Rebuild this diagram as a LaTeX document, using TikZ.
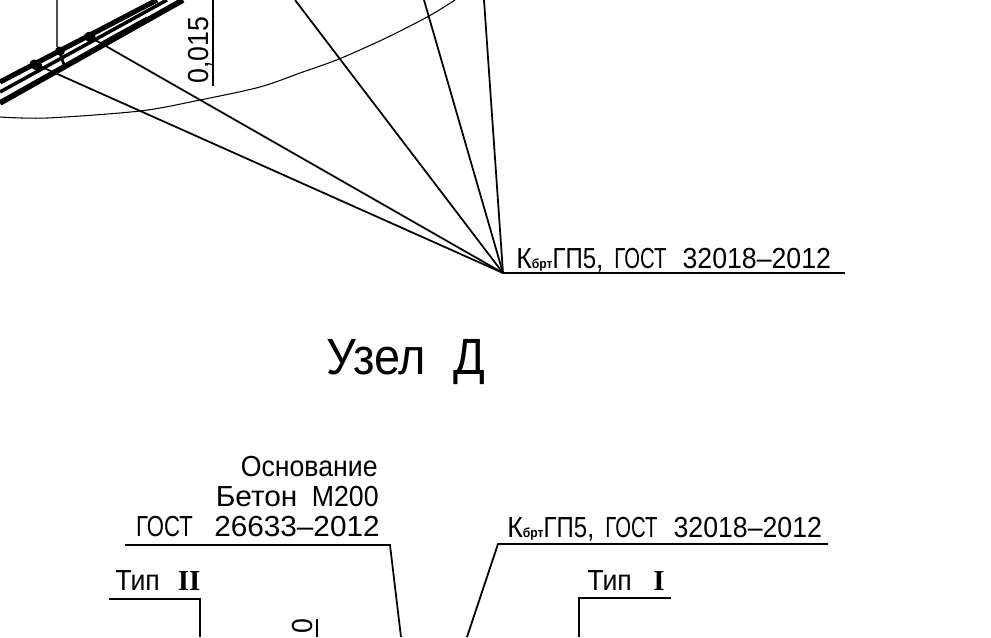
\documentclass[tikz,border=0pt]{standalone}
\usepackage{graphicx}
\usepackage{fontspec}
\setmainfont[FakeStretch=0.92]{Liberation Sans}
\newfontfamily\romfont{Liberation Serif}
\usetikzlibrary{calc}
\newcommand{\kbrt}{К{\fontsize{7.5pt}{8pt}\selectfont\bfseries брт}}
\newcommand{\gostword}[1]{\scalebox{#1}[1]{ГОСТ}}
\newcommand{\gpword}{\scalebox{0.9}[1]{ГП5},}
\tikzset{
  leader/.style={line width=1pt,black},
  thinline/.style={line width=0.6pt,black},
  plate/.style={line width=2.9pt,black},
  label/.style={inner sep=0pt,font=\fontsize{16.5pt}{18pt}\selectfont},
  title/.style={inner sep=0pt,font=\fontsize{29pt}{32pt}\selectfont},
}
\begin{document}
\begin{tikzpicture}[x=0.02cm,y=-0.02cm]
            \useasboundingbox (0,0) rectangle (991,637);
            \begin{scope}
            \clip (0,0) rectangle (991,637);

            \coordinate (tip) at (503,273);
            \coordinate (tipend) at (845,273);

            % fan
            \draw[leader] (35,64) -- (tip);
            \draw[leader] (90,37) -- (tip);
            \draw[leader] (295,0) -- (tip);
            \draw[leader] (424,0) -- (tip);
            \draw[leader] (484,0) -- (tip);
            \draw[leader] (tip) -- (tipend);

            % arc
            \draw[thinline] plot[smooth] coordinates {(0,117) (47,118) (140,111) (200,100) (260,87) (300,73) (339,59) (386,38) (429,16) (455,0)};

            % plates
            \draw[plate] (0,82) -- (157,0);
            \draw[line width=2pt] (0,92) -- (167,0);
            \draw[line width=3.2pt] (0,103) -- (183,0);
            \draw[thinline] (100,43) -- (147,17);
            \draw[line width=1.6pt] (60,53) -- (65,68);
            \fill[rotate around={-28:(36,65)}] (36,65) ellipse (6.5 and 5);
            \fill[rotate around={-28:(60,51)}] (60,51) ellipse (5 and 4.5);
            \fill[rotate around={-28:(90,37)}] (90,37) ellipse (6 and 5);

            \draw[line width=0.6pt,black!70] (57,0) -- (57,47);
            \draw[leader] (213,0) -- (213,86);
            \node[label,rotate=90,anchor=base west] (dim) at (208,84) {0,015};

            \node[label,anchor=base west] (topmark) at (516,268) {\kbrt\gpword\hspace{2pt}\ \gostword{0.76}\hspace{5pt} 32018--2012};

            \node[title,anchor=base west] (uzel) at (326,374) {Узел\hspace{8pt} Д};

            % left leader
            \coordinate (baseA) at (125,545);
            \coordinate (baseB) at (390,545);
            \coordinate (baseC) at (401,637);
            \draw[leader] (baseA) -- (baseB) -- (baseC);
            \node[label,anchor=base east] (base1) at (378,476) {Основание};
            \node[label,anchor=base east] (base2) at (379,506) {\scalebox{1.12}[1]{Бетон}\hspace{4pt} М200};
            \node[label,anchor=base east] (base3) at (380,536) {\gostword{0.83}\hspace{8pt} \scalebox{1.115}[1]{26633--2012}};

            % right leader
            \coordinate (roofA) at (828,544);
            \coordinate (roofB) at (498,544);
            \coordinate (roofC) at (467,637);
            \draw[leader] (roofA) -- (roofB) -- (roofC);
            \node[label,anchor=base west] (roof) at (507,537) {\kbrt\gpword\hspace{2pt}\ \gostword{0.76}\hspace{5pt} 32018--2012};

            % types
            \draw[leader] (109,599) -- (200,599) -- (200,637);
            \node[label,anchor=base west] (type2) at (115,590) {Тип\hspace{6pt} {\romfont\bfseries II}};
            \draw[leader] (671,598) -- (579,598) -- (579,637);
            \node[label,anchor=base west] (type1) at (587,590) {Тип\hspace{8pt} {\romfont\bfseries I}};

            \draw[leader] (317,619) -- (317,637);
            \node[label,rotate=90,anchor=base west] (dimb) at (312,634) {0};
            \end{scope}
         \end{tikzpicture}
\end{document}
